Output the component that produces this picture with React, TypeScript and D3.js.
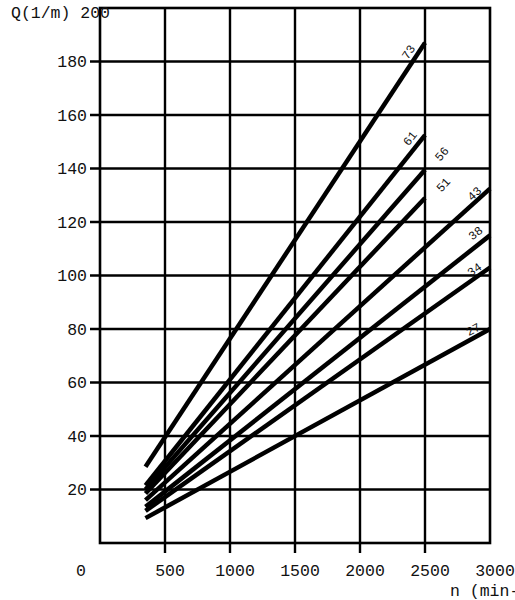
import * as React from 'react';
import * as d3 from 'd3';

// axis ticks
const xTicks = [0, 500, 1000, 1500, 2000, 2500, 3000];
const yTicks = [0, 20, 40, 60, 80, 100, 120, 140, 160, 180, 200];
const yTitle = 'Q(1/m)';
const xTitle = 'n (min-1)';

// one straight line per pump size
const sizes = ['73', '61', '56', '51', '43', '38', '34', '27'];
const nStart = [350, 350, 350, 350, 350, 350, 350, 350];
const nEnd = [2500, 2500, 2500, 2500, 3000, 3000, 3000, 3000];
const qStart = [28.5, 21.5, 20, 18.5, 16, 13.5, 12, 9.3];
const qEnd = [187, 152.5, 139.5, 129, 132.5, 115, 103, 80];

export default function App() {
  const width = 515;
  const height = 600;
  const left = 100, right = 490, top = 8, bottom = 543;
  const font = '"Liberation Mono", "Courier New", monospace';

  const x = d3.scaleLinear().domain([0, 3000]).range([left, right]);
  const y = d3.scaleLinear().domain([0, 200]).range([bottom, top]);
  const line = d3.line<[number, number]>().x(d => x(d[0])).y(d => y(d[1]));

  // label offset along the line from its end (px) and away from it
  const labelAlong = [-17, -12, 23, 22, -15, -10, -14, -15];
  const labelPerp = [9, 10, -2, -4, 7, 11, 7.5, 8];

  const inner = (v, arr) => v !== arr[0] && v !== arr[arr.length - 1];

  return (
    <svg width={width} height={height}
      style={{ position: 'absolute', left: 0, top: 0, display: 'block', background: '#fff' }}>
      {/* vertical grid + ticks */}
      {xTicks.filter(v => inner(v, xTicks)).map(v => (
        <line key={'vx' + v} x1={x(v)} x2={x(v)} y1={top} y2={bottom + 10}
          stroke="#000" strokeWidth={2.4} />
      ))}
      {/* horizontal grid + ticks */}
      {yTicks.filter(v => inner(v, yTicks)).map(v => (
        <line key={'hy' + v} x1={left - 10} x2={right} y1={y(v)} y2={y(v)}
          stroke="#000" strokeWidth={2.4} />
      ))}
      <rect x={left} y={top} width={right - left} height={bottom - top}
        fill="none" stroke="#000" strokeWidth={2.6} />

      {/* y labels */}
      {yTicks.filter(v => inner(v, yTicks)).map(v => (
        <text key={'ly' + v} x={left - 13} y={y(v)} dy="0.35em" textAnchor="end"
          fontFamily={font} fontSize={16.5} fill="#111">{v}</text>
      ))}
      <text x={11} y={17.5} fontFamily={font} fontSize={16.5} fill="#111">
        {yTitle + ' ' + yTicks[yTicks.length - 1]}
      </text>

      {/* x labels */}
      {xTicks.map(v => (
        <text key={'lx' + v} x={v === 0 ? x(v) - 19 : x(v) + 5} y={576} textAnchor="middle"
          fontFamily={font} fontSize={16.5} fill="#111">{v}</text>
      ))}
      <text x={450} y={596} fontFamily={font} fontSize={16.5} fill="#111">{xTitle}</text>

      {/* series lines */}
      {sizes.map((s, i) => {
        const pts: [number, number][] = [[nStart[i], qStart[i]], [nEnd[i], qEnd[i]]];
        const x0 = x(nStart[i]), y0 = y(qStart[i]);
        const x1 = x(nEnd[i]), y1 = y(qEnd[i]);
        const len = Math.hypot(x1 - x0, y1 - y0);
        const ux = (x1 - x0) / len, uy = (y1 - y0) / len;
        const nx = uy, ny = -ux;
        const cx = x1 + labelAlong[i] * ux + labelPerp[i] * nx;
        const cy = y1 + labelAlong[i] * uy + labelPerp[i] * ny;
        const angle = Math.atan2(uy, ux) * 180 / Math.PI;
        return (
          <g key={s}>
            <path d={line(pts)} fill="none" stroke="#000" strokeWidth={4.5} />
            <text transform={`translate(${cx},${cy}) rotate(${angle})`} textAnchor="middle"
              dy="0.35em" fontFamily={font} fontSize={12} fill="#111">{s}</text>
          </g>
        );
      })}
    </svg>
  );
}
